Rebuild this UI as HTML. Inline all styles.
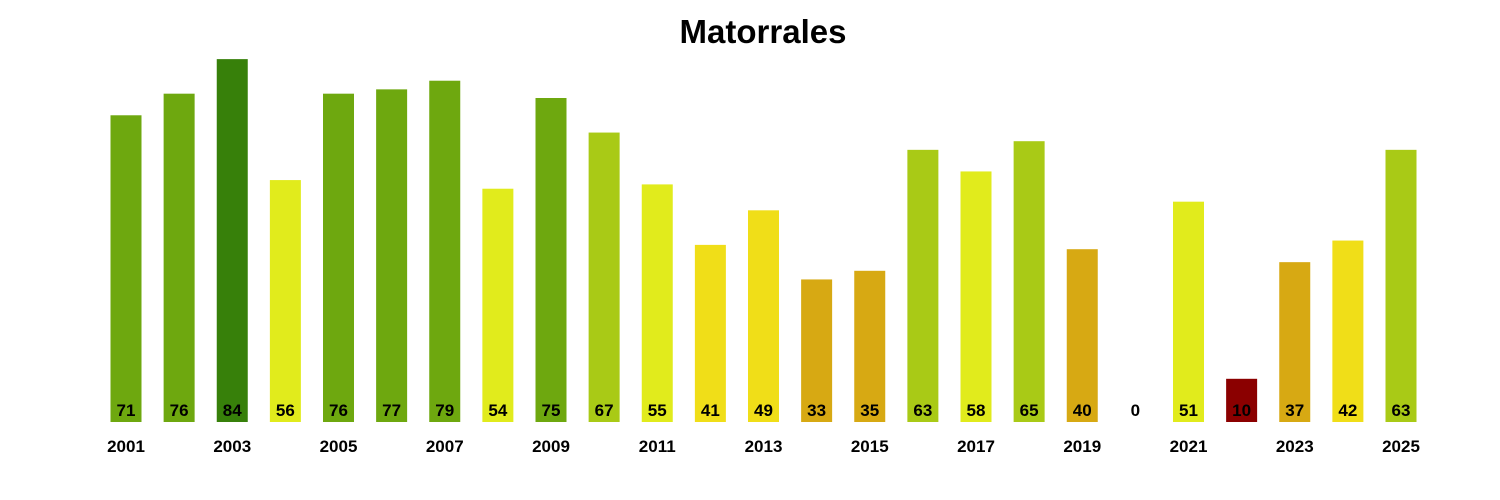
<!DOCTYPE html>
<html><head><meta charset="utf-8"><style>
html,body{margin:0;padding:0;background:#fff;}
svg{display:block;font-family:"Liberation Sans",Arial,sans-serif;}
</style></head><body>
<svg id="chart" width="1500" height="500">
<text x="763" y="43" text-anchor="middle" font-size="33" font-weight="bold">Matorrales</text>
<g id="bars"></g>
<g id="xaxis"></g>
</svg>
<script>
const years = [2001,2002,2003,2004,2005,2006,2007,2008,2009,2010,2011,2012,2013,2014,2015,2016,2017,2018,2019,2020,2021,2022,2023,2024,2025];
const values = [71,76,84,56,76,77,79,54,75,67,55,41,49,33,35,63,58,65,40,0,51,10,37,42,63];
const tickYears = [2001,2003,2005,2007,2009,2011,2013,2015,2017,2019,2021,2023,2025];

const baseY = 422, pxPerUnit = 4.32, x0 = 126, step = 53.125, barW = 31;
const xScale = y => x0 + (y - years[0]) * step;
const yScale = v => baseY - v * pxPerUnit;
function colorFor(v){
  if (v >= 80) return '#37800a';
  if (v >= 70) return '#6ea80f';
  if (v >= 60) return '#a9ca16';
  if (v >= 50) return '#e1eb1c';
  if (v > 40) return '#f0de18';
  if (v >= 30) return '#d7a913';
  return '#8b0000';
}
const NS = 'http://www.w3.org/2000/svg';
const bars = document.getElementById('bars');
years.forEach((yr, i) => {
  const v = values[i];
  const cx = xScale(yr);
  const r = document.createElementNS(NS, 'rect');
  r.setAttribute('x', cx - barW/2);
  r.setAttribute('y', yScale(v));
  r.setAttribute('width', barW);
  r.setAttribute('height', baseY - yScale(v));
  r.setAttribute('fill', colorFor(v));
  
  
  bars.appendChild(r);
  const t = document.createElementNS(NS, 'text');
  t.setAttribute('x', cx);
  t.setAttribute('y', 416);
  t.setAttribute('text-anchor', 'middle');
  t.setAttribute('font-size', '17');
  t.setAttribute('font-weight', 'bold');
  t.textContent = v;
  
  
  bars.appendChild(t);
});
const xaxis = document.getElementById('xaxis');
tickYears.forEach(yr => {
  const t = document.createElementNS(NS, 'text');
  t.setAttribute('x', xScale(yr));
  t.setAttribute('y', 452);
  t.setAttribute('text-anchor', 'middle');
  t.setAttribute('font-size', '17');
  t.setAttribute('font-weight', 'bold');
  t.textContent = yr;
  
  
  xaxis.appendChild(t);
});
</script>
</body></html>
